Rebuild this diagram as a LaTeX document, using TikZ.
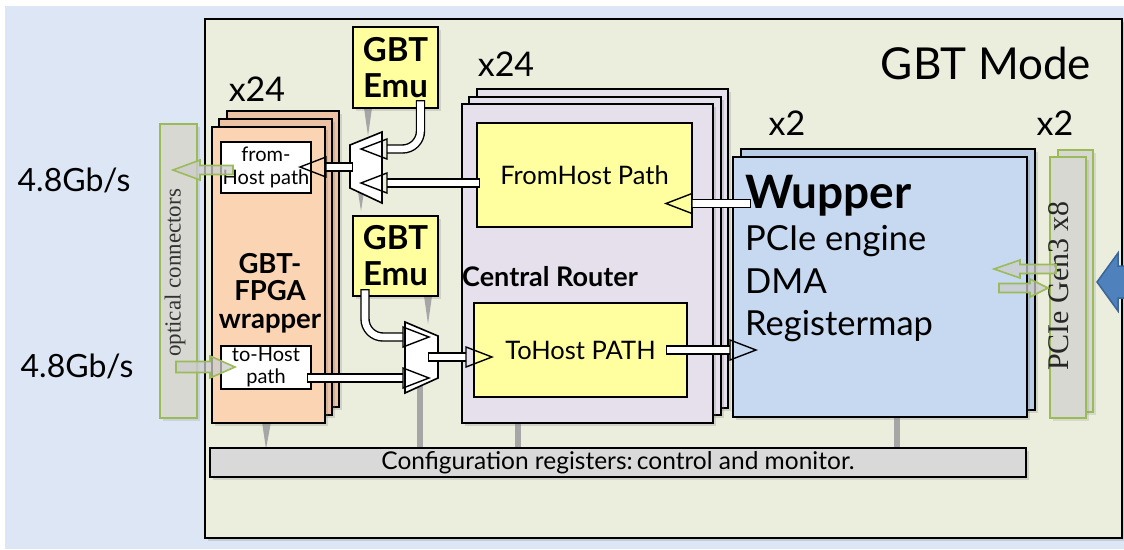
\documentclass[tikz,border=0pt]{standalone}
\usepackage{fontspec}
\setmainfont{Lato}
\newfontfamily\timesf{Liberation Serif}
\usetikzlibrary{shadows}
\newcommand{\fsz}[2]{\fontsize{#1}{#2}\selectfont}
\definecolor{bgblue}{HTML}{DCE6F5}
\definecolor{panelc}{HTML}{EBEEDD}
\definecolor{salmon}{HTML}{FBD4B4}
\definecolor{salmonb}{HTML}{EBC2A4}
\definecolor{lav}{HTML}{E5E0EC}
\definecolor{yel}{HTML}{FFFF9F}
\definecolor{wup}{HTML}{C6D9F1}
\definecolor{wupb}{HTML}{B8CCE4}
\definecolor{optgray}{HTML}{D6D8D1}
\definecolor{optgreen}{HTML}{9BBB59}
\definecolor{cfgc}{HTML}{D9D9D9}
\definecolor{ctl}{HTML}{A6A6A6}
\definecolor{pblue}{HTML}{4F81BD}
\definecolor{pbluedk}{HTML}{3A6599}
\newcommand{\tubeline}[2][]{%
  \draw[line width=9.4pt,black,#1] #2;
  \draw[line width=6.6pt,white,shorten <=1.4pt,#1] #2;}
\begin{document}
\begin{tikzpicture}[x=1pt,y=-1pt,
  blk/.style={draw=black,line width=1.6pt,inner sep=0pt,
    drop shadow={shadow xshift=3pt,shadow yshift=-3pt,opacity=0.25}},
  sz/.style n args={2}{minimum width=#1pt,minimum height=#2pt},
  optbar/.style={draw=optgreen,fill=optgray,line width=1.4pt,inner sep=0pt,
    drop shadow={shadow xshift=3pt,shadow yshift=-3pt,opacity=0.2}},
  garrow/.style={draw=optgreen,fill=gray!40,fill opacity=0.75,line width=1.6pt,line join=miter},
  ctlline/.style={draw=ctl,line width=6pt},
  ctlwedge/.style={fill=ctl,draw=none},
  hd/.pic={\draw[line width=1.4pt,line join=miter] (0,-10) -- (26,0) -- (0,10) -- cycle;},
  lbl/.style={inner sep=0pt}
]
\useasboundingbox (0,0) rectangle (1124,549);
\fill[white] (0,0) rectangle (1124,549);
\fill[bgblue] (5,6) rectangle (1124,549);

% main panel
\node[blk,fill=panelc,sz={917}{519}] (panel) at (663.5,278.5) {};
\node[lbl,font=\fsz{44}{44}] (mode) at (986,63) {GBT Mode};

% control lines to configuration registers
\fill[ctlwedge] (262,422) -- (271,422) -- (266,449) -- cycle;
\draw[ctlline] (420,384) -- (420,449);
\draw[ctlline] (518,420) -- (518,449);
\draw[ctlline] (897,415) -- (897,449);
\fill[ctlwedge] (364,108) -- (372,108) -- (368,136) -- cycle;
\fill[ctlwedge] (358,192) -- (364,192) -- (361,211) -- cycle;
\fill[ctlwedge] (424,296) -- (432,296) -- (428,324) -- cycle;

% configuration registers
\node[blk,fill=cfgc,sz={816}{29},font=\fsz{24.5}{24.5}] (cfg) at (618,462.5)
  {Configuration registers:\,control and monitor.};

% optical connectors
\node[optbar,sz={37}{294}] (opt) at (178.5,271) {};
\node[lbl,rotate=90,font=\timesf\fsz{23}{23},text=black!80] (optt) at (175,273) {optical connectors};
\node[lbl,font=\fsz{32}{32}] (rate1) at (74,180) {4.8Gb/s};
\node[lbl,font=\fsz{32}{32}] (rate2) at (77,366) {4.8Gb/s};

% GBT-FPGA wrapper stack
\node[lbl,font=\fsz{34}{34}] (x24a) at (257,89) {x24};
\node[blk,fill=salmonb,sz={112}{296}] (wrap3) at (283,259) {};
\node[blk,fill=salmonb,sz={113}{296}] (wrap2) at (275.5,267) {};
\node[blk,fill=salmon,sz={113}{296}] (wrap) at (268.5,275) {};
\node[draw=black,line width=1.6pt,fill=white,inner sep=0pt,sz={90}{51},align=center,font=\fsz{20}{23}] (fromhostp) at (266,167.5) {from-\\Host path};
\node[draw=black,line width=1.6pt,fill=white,inner sep=0pt,sz={90}{43},align=center,font=\fsz{20}{22}] (tohostp) at (266,367.5) {to-Host\\path};
\node[lbl,align=center,font=\bfseries\fsz{27.5}{27.5}] (wrapt) at (270,293) {GBT-\\FPGA\\wrapper};

% GBT emulators
\node[blk,fill=yel,sz={85}{81},align=center,font=\bfseries\fsz{33}{36}] (emu1) at (395.5,67.5) {GBT\\Emu};
\node[blk,fill=yel,sz={85}{80},align=center,font=\bfseries\fsz{33}{36}] (emu2) at (395.5,256) {GBT\\Emu};

% Central router stack
\node[lbl,font=\fsz{34}{34}] (x24b) at (506,64) {x24};
\node[blk,fill=lav,sz={251}{319}] (cr3) at (602.5,248.5) {};
\node[blk,fill=lav,sz={252}{318}] (cr2) at (595,256) {};
\node[blk,fill=lav,sz={251}{319}] (cr) at (587.5,263.5) {};
\node[draw=black,line width=1.6pt,fill=yel,sz={215}{104},font=\fsz{25.5}{25.5}] (fromhost) at (584.5,175) {FromHost Path};
\node[draw=black,line width=1.6pt,fill=yel,sz={213}{94},font=\fsz{25.5}{25.5}] (tohost) at (580.5,350) {ToHost PATH};
\node[lbl,anchor=west,font=\bfseries\fsz{27}{27}] (crt) at (462,277) {Central Router};

% Wupper stack
\node[lbl,font=\fsz{34}{34}] (x2a) at (787,123) {x2};
\node[blk,fill=wupb,sz={294}{261}] (wup2) at (888,279.5) {};
\node[blk,fill=wup,sz={294}{260}] (wup) at (880,287) {};

% PCIe bars
\node[lbl,font=\fsz{34}{34}] (x2b) at (1055,123) {x2};
\node[optbar,sz={35}{262}] (pcie2) at (1075.5,281) {};
\node[optbar,sz={36}{261}] (pcie) at (1068,287.5) {};

% multiplexers
\coordinate (ma1) at (350,145); \coordinate (ma2) at (382,132);
\coordinate (ma3) at (382,203); \coordinate (ma4) at (350,188);
\draw[fill=white,line width=1.6pt,line join=miter] (ma1) -- (ma2) -- (ma3) -- (ma4) -- cycle;
\coordinate (mb1) at (405,322); \coordinate (mb2) at (438,336);
\coordinate (mb3) at (438,378); \coordinate (mb4) at (405,393);
\draw[fill=white,line width=1.6pt,line join=miter] (mb1) -- (mb2) -- (mb3) -- (mb4) -- cycle;

% hollow data-path arrows
\coordinate (t1a) at (751,203.5); \coordinate (t1b) at (692,203.5);
\coordinate (t2a) at (480,183);   \coordinate (t2b) at (387,183);
\coordinate (t3a) at (420.5,100); \coordinate (t3b) at (387,149);
\coordinate (t4a) at (353,167);   \coordinate (t4b) at (326,167);
\coordinate (t5a) at (365,289);   \coordinate (t5b) at (403,337);
\coordinate (t6a) at (307,378);   \coordinate (t6b) at (403,378);
\coordinate (t7a) at (428,357);   \coordinate (t7b) at (466,357);
\coordinate (t8a) at (666,350);   \coordinate (t8b) at (730,350);
\tubeline{(t1a) -- (t1b)}
\tubeline{(t2a) -- (t2b)}
\tubeline[rounded corners=18pt]{(t3a) |- (t3b)}
\tubeline{(t4a) -- (t4b)}
\tubeline[rounded corners=18pt]{(t5a) |- (t5b)}
\tubeline{(t6a) -- (t6b)}
\tubeline{(t7a) -- (t7b)}
\tubeline{(t8a) -- (t8b)}
\pic[rotate=180] at (t1b) {hd};
\pic[rotate=180] at (t2b) {hd};
\pic[rotate=180] at (t3b) {hd};
\pic[rotate=180] at (t4b) {hd};
\pic at (t5b) {hd};
\pic at (t6b) {hd};
\pic at (t7b) {hd};
\pic at (t8b) {hd};

% Wupper text
\node[lbl,anchor=base west,font=\bfseries\fsz{46}{46}] (wupt) at (745,208) {Wupper};
\node[lbl,anchor=base west,font=\fsz{34.5}{34.5}] (wupl1) at (745,250) {PCIe engine};
\node[lbl,anchor=base west,font=\fsz{34.5}{34.5}] (wupl2) at (745,293) {DMA};
\node[lbl,anchor=base west,font=\fsz{34.5}{34.5}] (wupl3) at (745,335) {Registermap};

% PCIe text
\node[lbl,rotate=90,font=\timesf\fsz{30}{30},text=black!85] (pciet) at (1059,286) {PCIe Gen3 x8};

% green optical/PCIe arrows
\draw[garrow] (173,170) -- (200,160) -- (200,165.5) -- (233,165.5) -- (233,174.5) -- (200,174.5) -- (200,180) -- cycle;
\draw[garrow] (235,367) -- (210,356) -- (210,361.5) -- (176,361.5) -- (176,372.5) -- (210,372.5) -- (210,378) -- cycle;
\draw[garrow] (994,269) -- (1020,260) -- (1020,264.5) -- (1056,264.5) -- (1056,273.5) -- (1020,273.5) -- (1020,278) -- cycle;
\draw[garrow] (1048,288) -- (1030,279) -- (1030,283.5) -- (999,283.5) -- (999,292.5) -- (1030,292.5) -- (1030,297) -- cycle;

% host arrow
\draw[fill=pblue,draw=pbluedk,line width=1.5pt,line join=miter] (1097,282) -- (1118,253) -- (1118,266) -- (1126,266) -- (1126,298) -- (1118,298) -- (1118,311) -- cycle;
\end{tikzpicture}
\end{document}
